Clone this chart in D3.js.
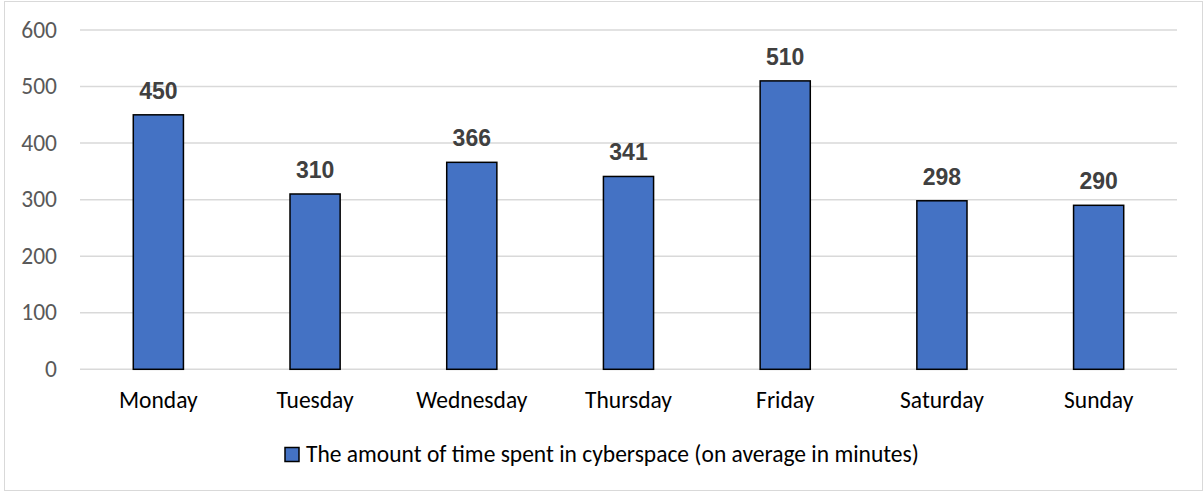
<!DOCTYPE html>
<html lang="en">
  <head>
    <meta charset="UTF-8" />
    <title>Time spent in cyberspace</title>
    <style>
      body { margin: 0; background: #fff; }
    </style>
  </head>
  <body>
    <script src="https://d3js.org/d3.v7.min.js"></script>
    <script>
      const days = ["Monday", "Tuesday", "Wednesday", "Thursday", "Friday", "Saturday", "Sunday"];
      const minutes = [450, 310, 366, 341, 510, 298, 290];
      const yTicks = [0, 100, 200, 300, 400, 500, 600];
      const seriesName = "The amount of time spent in cyberspace (on average in minutes)";

      const width = 1204;
      const height = 493;
      const textFont = "Carlito, Lato, sans-serif";
      const textSize = 23.5;

      const svg = d3
        .select("body")
        .append("svg")
        .attr("width", width)
        .attr("height", height);

      // chart border
      svg
        .append("rect")
        .attr("x", 4.5)
        .attr("y", 1.5)
        .attr("width", 1198)
        .attr("height", 489)
        .attr("fill", "#fff")
        .attr("stroke", "#d9d9d9")
        .attr("stroke-width", 1);

      const x = d3.scaleBand().domain(days).range([80, 1177]).padding(0);
      const y = d3.scaleLinear().domain([0, 600]).range([369.3, 30]);
      const barW = x.bandwidth() * 0.32;

      // gridlines
      svg
        .append("g")
        .selectAll("line")
        .data(yTicks)
        .join("line")
        .attr("x1", 80)
        .attr("x2", 1177)
        .attr("y1", (d) => y(d))
        .attr("y2", (d) => y(d))
        .attr("stroke", "#d9d9d9")
        .attr("stroke-width", 1.5);

      // y tick labels
      svg
        .append("g")
        .selectAll("text")
        .data(yTicks)
        .join("text")
        .attr("x", 57)
        .attr("y", (d) => y(d) + 7.5)
        .attr("text-anchor", "end")
        .attr("font-family", textFont)
        .attr("font-size", textSize)
        .attr("fill", "#595959")
        .text((d) => d);

      // bars
      svg
        .append("g")
        .selectAll("rect")
        .data(minutes)
        .join("rect")
        .attr("x", (d, i) => x(days[i]) + x.bandwidth() / 2 - barW / 2)
        .attr("y", (d) => y(d))
        .attr("width", barW)
        .attr("height", (d) => y(0) - y(d))
        .attr("fill", "#4472c4")
        .attr("stroke", "#000")
        .attr("stroke-width", 1.5);

      // value labels
      svg
        .append("g")
        .selectAll("text")
        .data(minutes)
        .join("text")
        .attr("x", (d, i) => x(days[i]) + x.bandwidth() / 2)
        .attr("y", (d) => y(d) - 16)
        .attr("text-anchor", "middle")
        .attr("font-family", "Liberation Sans, Arial, sans-serif")
        .attr("font-weight", "bold")
        .attr("font-size", 23)
        .attr("fill", "#404040")
        .text((d) => d);

      // category labels
      svg
        .append("g")
        .selectAll("text")
        .data(days)
        .join("text")
        .attr("x", (d) => x(d) + x.bandwidth() / 2)
        .attr("y", 408)
        .attr("text-anchor", "middle")
        .attr("font-family", textFont)
        .attr("font-size", textSize)
        .attr("fill", "#000")
        .text((d) => d);

      // legend
      const legend = svg.append("g");
      legend
        .append("rect")
        .attr("x", 285)
        .attr("y", 447.5)
        .attr("width", 14)
        .attr("height", 14)
        .attr("fill", "#4472c4")
        .attr("stroke", "#000")
        .attr("stroke-width", 1.5);
      legend
        .append("text")
        .attr("x", 306)
        .attr("y", 461.5)
        .attr("font-family", textFont)
        .attr("font-size", textSize)
        .attr("fill", "#000")
        .text(seriesName);
    </script>
  </body>
</html>
